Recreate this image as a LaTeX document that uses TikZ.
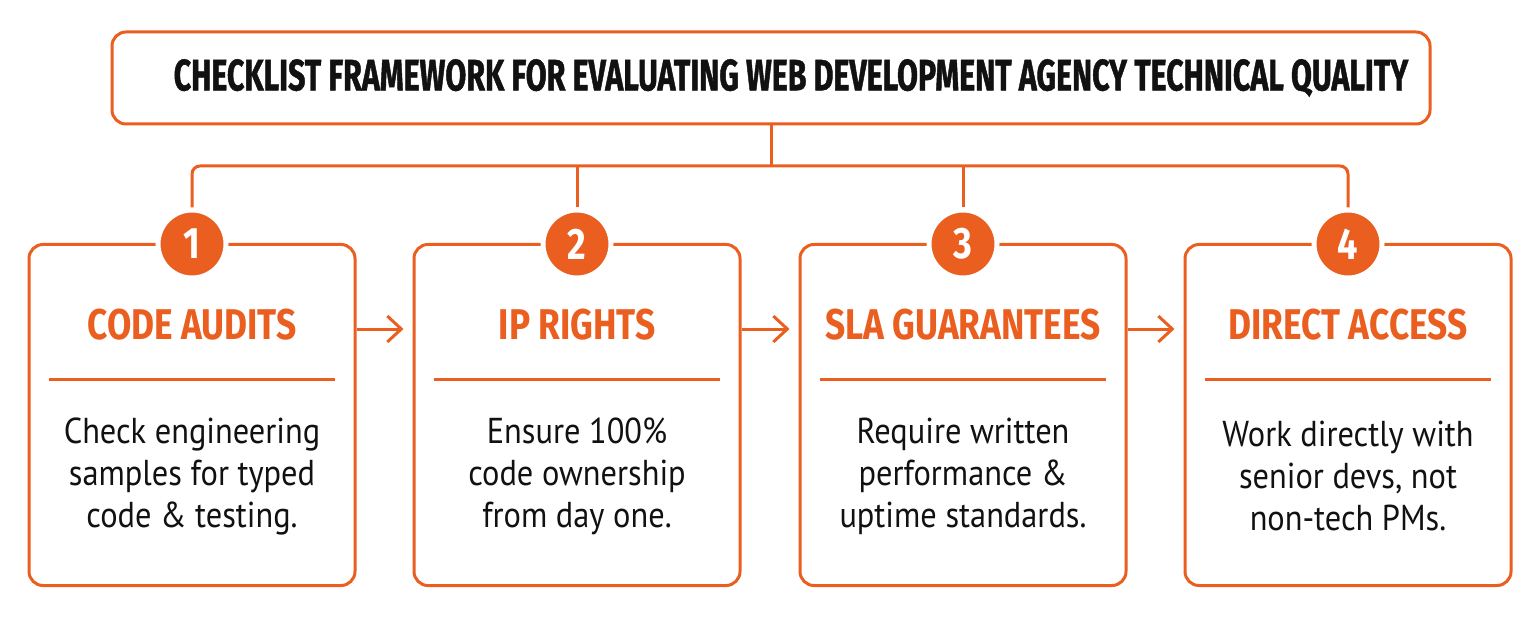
\documentclass[tikz,border=0pt]{standalone}
\usepackage{fontspec}
\setmainfont{Fira Sans}
\newfontfamily\titlefont{Fira Sans}[FakeStretch=0.69,FakeBold=1]
\newfontfamily\headfont{Fira Sans}[FakeStretch=0.82]
\newfontfamily\bodyfont{PT Sans}[FakeStretch=0.9]
\usetikzlibrary{arrows.meta}
\definecolor{agencyorange}{RGB}{234,94,31}
\definecolor{inkblack}{RGB}{17,17,17}

\tikzset{
	card/.style={draw=agencyorange, line width=3pt, rounded corners=14pt, fill=white,
		minimum width=326pt, minimum height=341pt},
	badge/.style={circle, fill=agencyorange, draw=white, line width=5pt, minimum size=68pt,
		inner sep=0pt, text=white, font=\headfont\bfseries\fontsize{44}{44}\selectfont},
	heading/.style={text=agencyorange, font=\headfont\bfseries\fontsize{43}{43}\selectfont},
	blurb/.style={text=inkblack, align=center, font=\bodyfont\fontsize{36}{42}\selectfont},
	link/.style={draw=agencyorange, line width=3pt},
	flow/.style={link, -{Straight Barb[length=14pt,width=26pt]}}
}

\begin{document}
\begin{tikzpicture}[x=1pt,y=-1pt]
	\useasboundingbox (0,0) rectangle (1536,620);
	
	% title bar
	\node[draw=agencyorange, line width=3pt, rounded corners=14pt, minimum width=1318pt,
		minimum height=92pt, text=inkblack, font=\titlefont\bfseries\fontsize{44}{44}\selectfont]
		(title) at (771,78) {\hspace*{40pt}CHECKLIST FRAMEWORK FOR EVALUATING WEB DEVELOPMENT AGENCY TECHNICAL QUALITY};
	\coordinate (hub) at (title.south |- 0,166);
	
	% the four cards
	\foreach \n/\x/\head/\body in {
			1/192/CODE AUDITS/{Check engineering\\samples for typed\\code \& testing.},
			2/577/IP RIGHTS/{Ensure 100\%\\code ownership\\from day one.},
			3/963/SLA GUARANTEES/{Require written\\performance \&\\uptime standards.},
			4/1348/DIRECT ACCESS/{Work directly with\\senior devs, not\\non-tech PMs.}}{
		\node[card] (card\n) at (\x,415) {};
		\node[badge] (badge\n) at (\x,244) {\n};
		\node[heading] (head\n) at (\x,325) {\head};
		\draw[link] (\x-143,379) -- (\x+143,379);
		\node[blurb] (body\n) at (\x,476) {\body};
	}
	
	% tree from the title down to the badges
	\draw[link] (title.south) -- (hub);
	\draw[link, rounded corners=8pt] (badge1.north) |- (hub) -| (badge4.north);
	\draw[link] (badge2.north) -- (badge2.north |- hub);
	\draw[link] (badge3.north) -- (badge3.north |- hub);
	
	% arrows between cards
	\draw[flow] (card1.east |- 0,329) -- ([xshift=-9pt]card2.west |- 0,329);
	\draw[flow] (card2.east |- 0,329) -- ([xshift=-9pt]card3.west |- 0,329);
	\draw[flow] (card3.east |- 0,329) -- ([xshift=-9pt]card4.west |- 0,329);
\end{tikzpicture}
\end{document}
